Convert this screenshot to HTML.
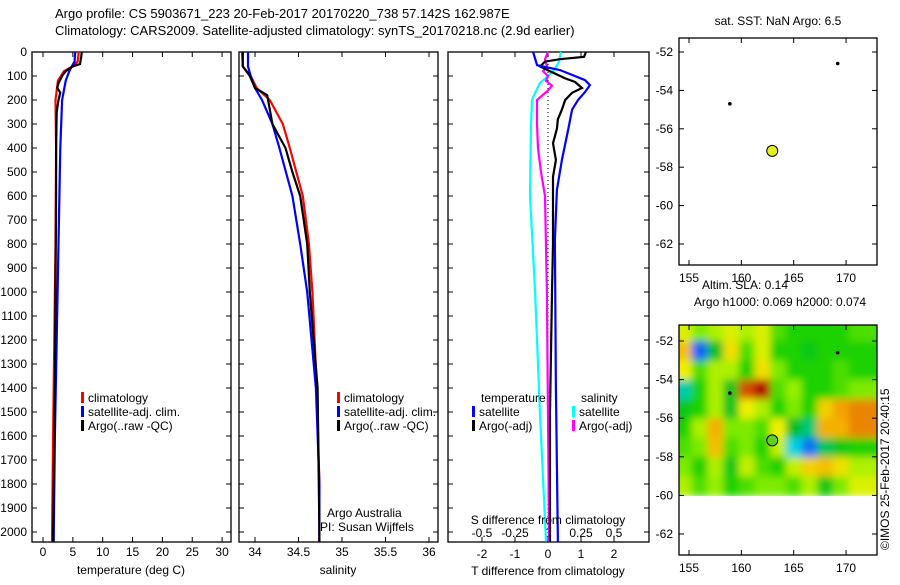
<!DOCTYPE html>
<html><head><meta charset="utf-8"><style>
body{margin:0;background:#fff;}
svg{font-family:"Liberation Sans",sans-serif;font-size:12px;}
</style></head><body>
<svg id="c" width="900" height="580" xmlns="http://www.w3.org/2000/svg">
<defs>
<filter id="bl" x="-5%" y="-5%" width="110%" height="110%"><feGaussianBlur stdDeviation="4"/></filter>
<clipPath id="mapclip"><rect x="679" y="325" width="198" height="171"/></clipPath>
</defs>
<text x="55" y="18" font-size="13">Argo profile: CS 5903671_223 20-Feb-2017 20170220_738 57.142S 162.987E</text>
<text x="55" y="35" font-size="13">Climatology: CARS2009. Satellite-adjusted climatology: synTS_20170218.nc (2.9d earlier)</text>
<g id="g"></g>
</svg>
<script>
// ---- data ----
const tDepth=[0,40,60,80,120,200,400,800,1200,1600,2040];
const tClim=[6.0,5.8,5.0,3.5,2.5,2.1,2.2,2.1,1.9,1.7,1.5];
const tSat=[5.4,5.3,4.8,4.4,3.8,3.2,2.9,2.6,2.3,2.0,1.8];
const argoTDepth=[0,20,50,60,80,100,130,150,170,200,250,400,600,1000,1400,1800,2040];
const argoT=[6.5,6.4,6.2,5.0,3.8,3.2,2.6,2.4,2.9,2.6,2.3,2.2,2.2,2.1,2.0,1.8,1.7];
const sDepth=[0,60,100,150,200,300,400,600,800,1000,1400,1800,2040];
const sClim=[33.85,33.86,33.95,34.02,34.17,34.32,34.40,34.55,34.62,34.66,34.71,34.74,34.74];
const sSat=[33.92,33.92,33.95,34.0,34.08,34.2,34.28,34.43,34.52,34.6,34.7,34.74,34.74];
const argoSDepth=[0,60,100,150,180,300,400,500,600,800,1000,1400,2000,2040];
const argoS=[33.86,33.86,33.94,34.0,34.14,34.2,34.35,34.43,34.52,34.6,34.63,34.72,34.74,34.74];
const dTSatDepth=[0,55,75,117,138,167,200,240,325,450,575,783,1400,2040];
const dTSat=[-0.45,-0.33,0.36,1.12,1.27,1.12,0.91,0.73,0.61,0.42,0.27,0.21,0.24,0.30];
const dTArgoDepth=[0,20,30,40,60,80,110,125,150,170,200,240,280,320,380,450,520,600,800,1000,1500,2040];
const dTArgo=[1.15,1.09,0.36,-0.09,-0.24,0.06,0.52,0.82,1.03,0.73,0.52,0.42,0.30,0.27,0.15,0.24,0.15,0.15,0.15,0.12,0.06,0.06];
const dSSatDepth=[0,40,70,100,130,170,200,300,600,1000,1500,2040];
const dSSat=[0.098,0.083,0.053,0,-0.061,-0.098,-0.121,-0.129,-0.136,-0.098,-0.061,-0.015];
const dSArgoDepth=[0,30,60,80,100,120,140,160,200,300,400,500,600,1000,2040];
const dSArgo=[0,-0.023,-0.008,-0.038,0,-0.015,0.03,0,-0.083,-0.083,-0.076,-0.053,-0.023,-0.008,0.008];
const depthTicks=[0,100,200,300,400,500,600,700,800,900,1000,1100,1200,1300,1400,1500,1600,1700,1800,1900,2000];
const tTicks=[0,5,10,15,20,25,30];
const sTicks=[34,34.5,35,35.5,36];
const dTTicks=[-2,-1,0,1,2];
const dSTicks=[-0.5,-0.25,0,0.25,0.5];
const dSTickLabels=["-0.5","-0.25","0","0.25","0.5"];
const lonTicks=[155,160,165,170];
const latTicks=[-52,-54,-56,-58,-60,-62];
const floatLon=[158.9,169.2];
const floatLat=[-54.7,-52.6];
const profLon=162.95, profLat=-57.15;
const slaLon=[154.5,156,157.5,159,160.5,162,163.5,165,166.5,168,169.5,171];
const slaLat=[-51.5,-52.5,-53.5,-54.5,-55.5,-56.5,-57.5,-58.5,-59.5];
const sla=[
[0.4,0.2,0.3,0.4,0.3,0.4,0.1,0,0,0,0,0.1],
[0.6,-0.9,-0.2,0.5,0.1,0.4,0,0,-0.1,0,0,0],
[0.45,0.1,0.3,0.3,0,0.5,0.2,0,0,0,0.1,0],
[-0.45,0,0.3,-0.15,0.85,1.0,0.1,0.25,0,0,0.1,0.2],
[-0.1,0,0.3,-0.15,0.45,0.3,0,0.2,0,0.55,0.7,0.75],
[0,0.3,0.65,0.2,0.2,0.1,0.45,-0.2,-0.35,0.65,0.65,0.75],
[0.1,0.2,0.6,0.1,0.2,0,0.35,-0.55,-0.85,-0.3,-0.1,0],
[0.2,0,0.3,-0.1,0.35,0.1,0,0.35,0.55,0.6,0.5,0.3],
[0.3,0.1,0.25,0,0.1,0.2,0.2,0.1,0.3,-0.1,0.2,0.4]];

// ---- helpers ----
const NS="http://www.w3.org/2000/svg";
const G=document.getElementById('g');
function mk(tag,at,parent){const e=document.createElementNS(NS,tag);for(const k in at)e.setAttribute(k,at[k]);(parent||G).appendChild(e);return e;}
function txt(x,y,s,anchor,name,extra){const e=mk('text',Object.assign({x:x,y:y,'text-anchor':anchor||'start'},extra||{}));e.textContent=s;


return e;}
const Y0=52, PPD=0.24;
const yD=d=>Y0+d*PPD;
const xT=v=>43+v*5.97;
const xS=v=>255+(v-34)*87;
const xDT=v=>548+v*33;
const xDS=v=>548+v*132;
function line(xs,ds,fx,color,name,w){
  const p=xs.map((v,i)=>fx(v).toFixed(1)+','+yD(ds[i]).toFixed(1)).join(' ');
  const e=mk('polyline',{points:p,fill:'none',stroke:color,'stroke-width':w||2.2});
  
  
}
function box(x,y,w,h,name){const e=mk('rect',{x:x,y:y,width:w,height:h,fill:'none',stroke:'#000','stroke-width':1.3});

}
function depthTickMarks(x1,x2,labels){
  depthTicks.forEach(d=>{const y=yD(d);
    mk('line',{x1:x1,y1:y,x2:x1+5,y2:y,stroke:'#000'});
    mk('line',{x1:x2,y1:y,x2:x2-5,y2:y,stroke:'#000'});
    if(labels)txt(27,y+4,String(d),'end','depth-tick-label');});
}
function xTicks(vals,fx,yT,yB,labs,labY,name){
  vals.forEach((v,i)=>{const x=fx(v);
    mk('line',{x1:x,y1:yT,x2:x,y2:yT+5,stroke:'#000'});
    mk('line',{x1:x,y1:yB,x2:x,y2:yB-5,stroke:'#000'});
    if(labs)txt(x,labY,labs[i],'middle',name);});
}
const BOT=542;
box(32,Y0,199,BOT-Y0,'temperature-panel');
depthTickMarks(32,231,true);
xTicks(tTicks,xT,Y0,BOT,tTicks.map(String),556,'temperature-tick-label');
line(tClim,tDepth,xT,'#f00','temperature-climatology-line');
line(tSat,tDepth,xT,'#00f','temperature-satellite-line');
line(argoT,argoTDepth,xT,'#000','temperature-argo-line');
txt(131,574,'temperature (deg C)','middle','temperature-axis-title');
box(239,Y0,199,BOT-Y0,'salinity-panel');
depthTickMarks(239,438,false);
xTicks(sTicks,xS,Y0,BOT,["34","34.5","35","35.5","36"],556,'salinity-tick-label');
line(sClim,sDepth,xS,'#f00','salinity-climatology-line');
line(sSat,sDepth,xS,'#00f','salinity-satellite-line');
line(argoS,argoSDepth,xS,'#000','salinity-argo-line');
txt(338,574,'salinity','middle','salinity-axis-title');
txt(327,517,'Argo Australia','start','credit-argo-australia');
txt(320,531,'PI: Susan Wijffels','start','credit-pi');
box(448,Y0,201,BOT-Y0,'difference-panel');
depthTickMarks(448,649,false);
xTicks(dTTicks,xDT,Y0,BOT,dTTicks.map(String),558,'t-difference-tick-label');
dSTicks.forEach((v,i)=>txt(xDS(v),537,dSTickLabels[i],'middle','s-difference-tick-label'));
mk('line',{x1:xDT(0),y1:Y0,x2:xDT(0),y2:BOT,stroke:'#000','stroke-dasharray':'1,3'});
line(dSSat,dSSatDepth,xDS,'#0ff','s-diff-satellite-line');
line(dSArgo,dSArgoDepth,xDS,'#f0f','s-diff-argo-line');
line(dTArgo,dTArgoDepth,xDT,'#000','t-diff-argo-line');
line(dTSat,dTSatDepth,xDT,'#00f','t-diff-satellite-line');
txt(548,524,'S difference from climatology','middle','s-difference-axis-title');
txt(548,575,'T difference from climatology','middle','t-difference-axis-title');
function leg(x,y,c,s,name){const r=mk('rect',{x:x,y:y-10,width:3,height:11,fill:c});


txt(x+7,y,s,'start',name);}
leg(81,402,'#f00','climatology','legend-climatology');
leg(81,416,'#00f','satellite-adj. clim.','legend-satellite');
leg(81,430,'#000','Argo(..raw -QC)','legend-argo');
leg(337,402,'#f00','climatology','legend2-climatology');
leg(337,416,'#00f','satellite-adj. clim.','legend2-satellite');
leg(337,430,'#000','Argo(..raw -QC)','legend2-argo');
txt(481,402,'temperature','start','legend-temperature-heading');
txt(581,402,'salinity','start','legend-salinity-heading');
leg(472,416,'#00f','satellite','legend-t-satellite');
leg(472,430,'#000','Argo(-adj)','legend-t-argo');
leg(572,416,'#0ff','satellite','legend-s-satellite');
leg(572,430,'#f0f','Argo(-adj)','legend-s-argo');
const mLon=v=>689+(v-155)*10.47;
function mapAxes(top,bottom,latY,name){
  box(679,top,198,bottom-top,name);
  lonTicks.forEach(v=>{const x=mLon(v);
    mk('line',{x1:x,y1:top,x2:x,y2:top+5,stroke:'#000'});
    mk('line',{x1:x,y1:bottom,x2:x,y2:bottom-5,stroke:'#000'});
    txt(x,bottom+17,String(v),'middle','map-lon-tick-label');});
  latTicks.forEach(v=>{const y=latY(v);
    mk('line',{x1:679,y1:y,x2:684,y2:y,stroke:'#000'});
    mk('line',{x1:877,y1:y,x2:872,y2:y,stroke:'#000'});
    txt(673,y+4,String(v),'end','map-lat-tick-label');});
}
function floats(latY){floatLon.forEach((lo,i)=>{const c=mk('circle',{cx:mLon(lo),cy:latY(floatLat[i]),r:1.8,fill:'#000'});

});}
const lat1=v=>52+(-52-v)*19.2;
mapAxes(38,265,lat1,'sst-map');
floats(lat1);
let pc=mk('circle',{cx:mLon(profLon),cy:lat1(profLat),r:5.5,fill:'#e0f020',stroke:'#000'});


txt(778,25,'sat. SST: NaN Argo: 6.5','middle','sst-map-title');
const lat2=v=>341+(-52-v)*19.3;
function col(v){const st=[[-1,[20,70,255]],[-0.55,[0,210,225]],[-0.2,[0,190,40]],[0,[30,210,0]],[0.25,[150,240,0]],[0.45,[240,240,0]],[0.7,[245,160,0]],[1,[180,0,0]]];
  v=Math.max(-1,Math.min(1,v));for(let i=1;i<st.length;i++){if(v<=st[i][0]){const a=st[i-1],b=st[i],t=(v-a[0])/(b[0]-a[0]);
  return 'rgb('+a[1].map((c,k)=>Math.round(c+(b[1][k]-c)*t)).join(',')+')';}}return 'rgb(180,0,0)';}
const hg=mk('g',{'clip-path':'url(#mapclip)'});
const hb=mk('g',{filter:'url(#bl)'},hg);
const cw=1.5*10.47, ch=19.3;
sla.forEach((row,r)=>row.forEach((v,c)=>{const e=mk('rect',{x:mLon(slaLon[c])-cw/2-(c==0?20:0),y:lat2(slaLat[r])-ch/2-(r==0?20:0),width:cw+1+(c==0||c==11?20:0),height:ch+1+(r==0?20:0),fill:col(v)},hb);

}));
mapAxes(325,555,lat2,'sla-map');
floats(lat2);
pc=mk('circle',{cx:mLon(profLon),cy:lat2(profLat),r:5.5,fill:'#60d020',stroke:'#000'});


txt(745,289,'Altim. SLA: 0.14','middle','sla-map-title');
txt(780,306,'Argo h1000: 0.069 h2000: 0.074','middle','sla-map-subtitle');
txt(0,0,'©IMOS 25-Feb-2017 20:40:15','start','imos-timestamp',{transform:'translate(889,550) rotate(-90)'});
</script>
</body></html>
